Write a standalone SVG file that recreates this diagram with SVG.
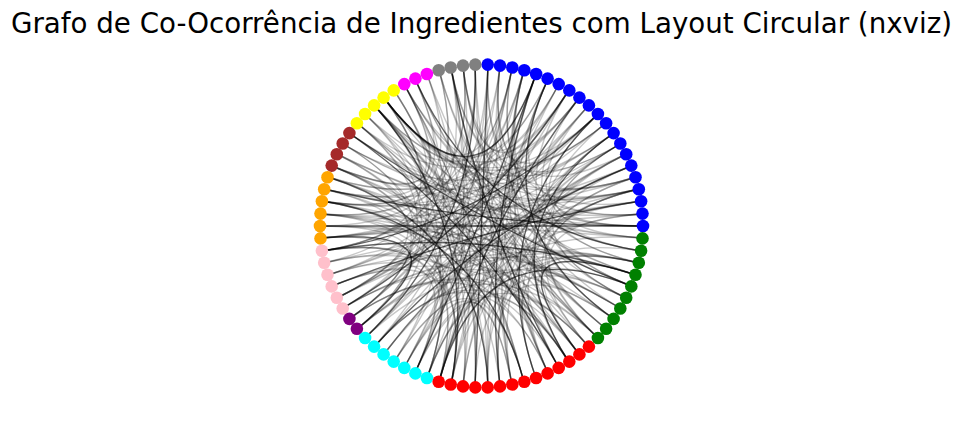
<svg xmlns="http://www.w3.org/2000/svg" width="963" height="421" viewBox="0 0 963 421">
<style>
.e{fill:none;stroke:#000;stroke-width:1.4;stroke-opacity:.22}
.d{stroke-opacity:.6}
circle{stroke:none}
.bl{fill:#0000ff}.gy{fill:#808080}.mg{fill:#ff00ff}.yl{fill:#ffff00}.br{fill:#a52a2a}.or{fill:#ffa500}.pk{fill:#ffc0cb}.pu{fill:#800080}.cy{fill:#00ffff}.rd{fill:#ff0000}.gn{fill:#008000}
.t{font-family:"DejaVu Sans","Liberation Sans",sans-serif;font-size:27.7px;fill:#000}
</style>
<rect width="963" height="421" fill="#fff"/>
<text class="t" x="481.5" y="33" text-anchor="middle">Grafo de Co-Ocorrência de Ingredientes com Layout Circular (nxviz)</text>
<g id="edges">
<path class="e" d="M643,226Q481.5,226 384,98"/>
<path class="e" d="M642,214Q481.5,226 321,238"/>
<path class="e" d="M641,201Q481.5,226 500,66"/>
<path class="e" d="M639,189Q481.5,226 324,189"/>
<path class="e" d="M636,177Q481.5,226 404,84"/>
<path class="e d" d="M631,166Q481.5,226 374,347"/>
<path class="e" d="M626,154Q481.5,226 500,66"/>
<path class="e" d="M620,144Q481.5,226 328,275"/>
<path class="e" d="M614,133Q481.5,226 322,201"/>
<path class="e" d="M606,123Q481.5,226 374,105"/>
<path class="e" d="M598,114Q481.5,226 322,201"/>
<path class="e" d="M589,105Q481.5,226 374,347"/>
<path class="e" d="M579,98Q481.5,226 384,98"/>
<path class="e d" d="M569,90Q481.5,226 343,308"/>
<path class="e" d="M559,84Q481.5,226 328,177"/>
<path class="e" d="M548,79Q481.5,226 488,387"/>
<path class="e d" d="M536,74Q481.5,226 384,98"/>
<path class="e" d="M524,70Q481.5,226 404,368"/>
<path class="e" d="M512,68Q481.5,226 349,319"/>
<path class="e" d="M500,66Q481.5,226 321,214"/>
<path class="e" d="M488,65Q481.5,226 349,319"/>
<path class="e" d="M475,65Q481.5,226 488,387"/>
<path class="e" d="M463,66Q481.5,226 322,201"/>
<path class="e" d="M451,68Q481.5,226 439,382"/>
<path class="e" d="M439,70Q481.5,226 337,298"/>
<path class="e" d="M427,74Q481.5,226 598,338"/>
<path class="e" d="M415,79Q481.5,226 322,201"/>
<path class="e" d="M404,84Q481.5,226 524,382"/>
<path class="e" d="M394,90Q481.5,226 451,385"/>
<path class="e" d="M384,98Q481.5,226 357,329"/>
<path class="e d" d="M374,105Q481.5,226 451,385"/>
<path class="e" d="M365,114Q481.5,226 598,338"/>
<path class="e" d="M357,123Q481.5,226 349,319"/>
<path class="e d" d="M349,133Q481.5,226 559,368"/>
<path class="e" d="M343,144Q481.5,226 427,378"/>
<path class="e" d="M337,154Q481.5,226 643,226"/>
<path class="e" d="M332,166Q481.5,226 349,319"/>
<path class="e" d="M328,177Q481.5,226 620,308"/>
<path class="e" d="M324,189Q481.5,226 569,362"/>
<path class="e" d="M322,201Q481.5,226 463,386"/>
<path class="e" d="M321,214Q481.5,226 569,362"/>
<path class="e d" d="M320,226Q481.5,226 643,226"/>
<path class="e" d="M321,238Q481.5,226 451,385"/>
<path class="e d" d="M322,251Q481.5,226 636,275"/>
<path class="e" d="M324,263Q481.5,226 548,373"/>
<path class="e" d="M328,275Q481.5,226 598,114"/>
<path class="e" d="M332,286Q481.5,226 451,385"/>
<path class="e" d="M337,298Q481.5,226 639,189"/>
<path class="e" d="M343,308Q481.5,226 639,263"/>
<path class="e" d="M349,319Q481.5,226 579,354"/>
<path class="e" d="M357,329Q481.5,226 639,263"/>
<path class="e" d="M365,338Q481.5,226 598,114"/>
<path class="e" d="M374,347Q481.5,226 569,362"/>
<path class="e" d="M384,354Q481.5,226 626,154"/>
<path class="e" d="M394,362Q481.5,226 631,286"/>
<path class="e" d="M404,368Q481.5,226 488,65"/>
<path class="e" d="M415,373Q481.5,226 569,362"/>
<path class="e" d="M427,378Q481.5,226 569,90"/>
<path class="e" d="M439,382Q481.5,226 620,144"/>
<path class="e" d="M451,385Q481.5,226 641,251"/>
<path class="e" d="M463,386Q481.5,226 620,144"/>
<path class="e d" d="M475,387Q481.5,226 488,65"/>
<path class="e" d="M488,387Q481.5,226 639,263"/>
<path class="e d" d="M500,386Q481.5,226 536,74"/>
<path class="e" d="M512,385Q481.5,226 631,166"/>
<path class="e" d="M524,382Q481.5,226 374,105"/>
<path class="e" d="M536,378Q481.5,226 639,263"/>
<path class="e" d="M548,373Q481.5,226 451,68"/>
<path class="e" d="M559,368Q481.5,226 524,70"/>
<path class="e d" d="M569,362Q481.5,226 614,133"/>
<path class="e" d="M579,354Q481.5,226 524,70"/>
<path class="e" d="M589,347Q481.5,226 374,105"/>
<path class="e" d="M598,338Q481.5,226 620,144"/>
<path class="e" d="M606,329Q481.5,226 415,79"/>
<path class="e d" d="M614,319Q481.5,226 548,79"/>
<path class="e" d="M620,308Q481.5,226 321,214"/>
<path class="e" d="M626,298Q481.5,226 620,144"/>
<path class="e d" d="M631,286Q481.5,226 349,133"/>
<path class="e" d="M636,275Q481.5,226 404,84"/>
<path class="e" d="M639,263Q481.5,226 512,68"/>
<path class="e" d="M641,251Q481.5,226 404,84"/>
<path class="e" d="M642,238Q481.5,226 321,214"/>
<path class="e" d="M643,226Q481.5,226 589,105"/>
<path class="e" d="M642,214Q481.5,226 343,144"/>
<path class="e d" d="M641,201Q481.5,226 332,286"/>
<path class="e" d="M639,189Q481.5,226 384,98"/>
<path class="e" d="M636,177Q481.5,226 451,68"/>
<path class="e" d="M631,166Q481.5,226 321,238"/>
<path class="e" d="M626,154Q481.5,226 439,382"/>
<path class="e" d="M620,144Q481.5,226 463,66"/>
<path class="e" d="M614,133Q481.5,226 332,166"/>
<path class="e" d="M606,123Q481.5,226 488,65"/>
<path class="e d" d="M598,114Q481.5,226 322,251"/>
<path class="e" d="M589,105Q481.5,226 404,368"/>
<path class="e" d="M579,98Q481.5,226 324,189"/>
<path class="e" d="M569,90Q481.5,226 357,123"/>
<path class="e" d="M559,84Q481.5,226 365,338"/>
<path class="e" d="M548,79Q481.5,226 548,373"/>
<path class="e" d="M536,74Q481.5,226 365,114"/>
<path class="e" d="M524,70Q481.5,226 328,275"/>
<path class="e" d="M512,68Q481.5,226 384,98"/>
<path class="e" d="M500,66Q481.5,226 374,347"/>
<path class="e" d="M488,65Q481.5,226 512,385"/>
<path class="e" d="M475,65Q481.5,226 337,298"/>
<path class="e" d="M463,66Q481.5,226 320,226"/>
<path class="e" d="M451,68Q481.5,226 463,386"/>
<path class="e" d="M439,70Q481.5,226 626,298"/>
<path class="e" d="M427,74Q481.5,226 321,214"/>
<path class="e" d="M415,79Q481.5,226 394,362"/>
<path class="e" d="M404,84Q481.5,226 324,189"/>
<path class="e" d="M394,90Q481.5,226 475,387"/>
<path class="e" d="M384,98Q481.5,226 606,329"/>
<path class="e" d="M374,105Q481.5,226 415,373"/>
<path class="e" d="M365,114Q481.5,226 357,329"/>
<path class="e" d="M357,123Q481.5,226 569,362"/>
<path class="e" d="M349,133Q481.5,226 639,189"/>
<path class="e" d="M343,144Q481.5,226 349,319"/>
<path class="e" d="M337,154Q481.5,226 500,386"/>
<path class="e" d="M332,166Q481.5,226 337,298"/>
<path class="e" d="M328,177Q481.5,226 579,354"/>
<path class="e d" d="M324,189Q481.5,226 643,226"/>
<path class="e d" d="M322,201Q481.5,226 524,382"/>
<path class="e" d="M321,214Q481.5,226 451,385"/>
<path class="e" d="M320,226Q481.5,226 636,275"/>
<path class="e" d="M321,238Q481.5,226 579,98"/>
<path class="e" d="M322,251Q481.5,226 439,382"/>
<path class="e" d="M324,263Q481.5,226 598,338"/>
<path class="e" d="M328,275Q481.5,226 415,373"/>
<path class="e" d="M332,286Q481.5,226 639,263"/>
<path class="e" d="M337,298Q481.5,226 606,123"/>
<path class="e" d="M343,308Q481.5,226 614,319"/>
<path class="e" d="M349,319Q481.5,226 559,368"/>
<path class="e" d="M357,329Q481.5,226 631,166"/>
<path class="e d" d="M365,338Q481.5,226 475,65"/>
<path class="e" d="M374,347Q481.5,226 548,373"/>
<path class="e" d="M384,354Q481.5,226 642,238"/>
<path class="e" d="M394,362Q481.5,226 524,382"/>
<path class="e" d="M404,368Q481.5,226 626,154"/>
<path class="e" d="M415,373Q481.5,226 512,68"/>
<path class="e" d="M427,378Q481.5,226 642,214"/>
<path class="e d" d="M439,382Q481.5,226 631,286"/>
<path class="e" d="M451,385Q481.5,226 559,84"/>
<path class="e" d="M463,386Q481.5,226 374,105"/>
<path class="e" d="M475,387Q481.5,226 626,298"/>
<path class="e" d="M488,387Q481.5,226 614,133"/>
<path class="e" d="M500,386Q481.5,226 614,319"/>
<path class="e" d="M512,385Q481.5,226 548,79"/>
<path class="e" d="M524,382Q481.5,226 404,84"/>
<path class="e d" d="M536,378Q481.5,226 598,114"/>
<path class="e" d="M548,373Q481.5,226 636,177"/>
<path class="e d" d="M559,368Q481.5,226 451,68"/>
<path class="e" d="M569,362Q481.5,226 322,201"/>
<path class="e" d="M579,354Q481.5,226 639,189"/>
<path class="e" d="M589,347Q481.5,226 524,70"/>
<path class="e" d="M598,338Q481.5,226 642,214"/>
<path class="e" d="M606,329Q481.5,226 439,70"/>
<path class="e" d="M614,319Q481.5,226 332,166"/>
<path class="e" d="M620,308Q481.5,226 500,66"/>
<path class="e" d="M626,298Q481.5,226 569,90"/>
<path class="e" d="M631,286Q481.5,226 357,123"/>
<path class="e" d="M636,275Q481.5,226 343,308"/>
<path class="e" d="M639,263Q481.5,226 579,98"/>
<path class="e d" d="M641,251Q481.5,226 415,79"/>
<path class="e" d="M642,238Q481.5,226 598,114"/>
<path class="e" d="M643,226Q481.5,226 614,133"/>
<path class="e" d="M641,201Q481.5,226 321,238"/>
<path class="e" d="M636,177Q481.5,226 384,98"/>
<path class="e" d="M626,154Q481.5,226 500,386"/>
<path class="e" d="M614,133Q481.5,226 321,238"/>
<path class="e" d="M598,114Q481.5,226 374,105"/>
<path class="e d" d="M579,98Q481.5,226 439,382"/>
<path class="e" d="M559,84Q481.5,226 463,66"/>
<path class="e d" d="M536,74Q481.5,226 415,373"/>
<path class="e" d="M512,68Q481.5,226 322,251"/>
<path class="e" d="M488,65Q481.5,226 631,286"/>
<path class="e" d="M463,66Q481.5,226 415,373"/>
<path class="e" d="M439,70Q481.5,226 324,263"/>
<path class="e" d="M415,79Q481.5,226 598,338"/>
<path class="e" d="M394,90Q481.5,226 332,166"/>
<path class="e" d="M374,105Q481.5,226 579,354"/>
<path class="e" d="M357,123Q481.5,226 427,378"/>
<path class="e" d="M343,144Q481.5,226 606,123"/>
<path class="e" d="M332,166Q481.5,226 579,354"/>
<path class="e" d="M324,189Q481.5,226 439,382"/>
<path class="e" d="M321,214Q481.5,226 636,177"/>
<path class="e d" d="M321,238Q481.5,226 357,329"/>
<path class="e" d="M324,263Q481.5,226 641,201"/>
<path class="e" d="M332,286Q481.5,226 589,347"/>
<path class="e" d="M343,308Q481.5,226 451,68"/>
<path class="e" d="M357,329Q481.5,226 641,201"/>
<path class="e" d="M374,347Q481.5,226 598,338"/>
<path class="e" d="M394,362Q481.5,226 512,68"/>
<path class="e" d="M415,373Q481.5,226 512,385"/>
<path class="e" d="M439,382Q481.5,226 536,74"/>
<path class="e" d="M463,386Q481.5,226 639,189"/>
<path class="e d" d="M488,387Q481.5,226 328,177"/>
<path class="e" d="M512,385Q481.5,226 536,74"/>
<path class="e" d="M536,378Q481.5,226 636,177"/>
<path class="e" d="M559,368Q481.5,226 357,123"/>
<path class="e d" d="M579,354Q481.5,226 636,275"/>
<path class="e" d="M598,338Q481.5,226 374,105"/>
<path class="e" d="M614,319Q481.5,226 524,70"/>
<path class="e" d="M626,298Q481.5,226 365,338"/>
<path class="e" d="M636,275Q481.5,226 374,105"/>
<path class="e" d="M641,251Q481.5,226 512,68"/>
<path class="e" d="M642,214Q481.5,226 548,79"/>
<path class="e" d="M639,189Q481.5,226 343,144"/>
<path class="e" d="M631,166Q481.5,226 384,354"/>
<path class="e" d="M620,144Q481.5,226 384,98"/>
<path class="e" d="M606,123Q481.5,226 569,362"/>
<path class="e" d="M589,105Q481.5,226 337,298"/>
<path class="e" d="M569,90Q481.5,226 463,66"/>
<path class="e" d="M548,79Q481.5,226 384,98"/>
<path class="e" d="M524,70Q481.5,226 343,308"/>
<path class="e" d="M500,66Q481.5,226 548,373"/>
<path class="e" d="M475,65Q481.5,226 322,251"/>
<path class="e" d="M451,68Q481.5,226 642,214"/>
<path class="e" d="M427,74Q481.5,226 475,387"/>
<path class="e" d="M404,84Q481.5,226 332,166"/>
<path class="e" d="M384,98Q481.5,226 322,251"/>
<path class="e" d="M365,114Q481.5,226 488,387"/>
<path class="e" d="M349,133Q481.5,226 642,238"/>
<path class="e" d="M337,154Q481.5,226 427,378"/>
<path class="e" d="M328,177Q481.5,226 548,79"/>
<path class="e" d="M322,201Q481.5,226 620,308"/>
<path class="e" d="M320,226Q481.5,226 357,329"/>
<path class="e" d="M322,251Q481.5,226 427,378"/>
<path class="e" d="M328,275Q481.5,226 626,298"/>
<path class="e" d="M337,298Q481.5,226 569,90"/>
<path class="e" d="M349,319Q481.5,226 589,347"/>
<path class="e" d="M365,338Q481.5,226 384,98"/>
<path class="e" d="M384,354Q481.5,226 620,144"/>
<path class="e" d="M404,368Q481.5,226 512,385"/>
<path class="e" d="M427,378Q481.5,226 589,347"/>
<path class="e" d="M451,385Q481.5,226 614,133"/>
<path class="e" d="M475,387Q481.5,226 404,84"/>
<path class="e" d="M500,386Q481.5,226 639,189"/>
<path class="e" d="M524,382Q481.5,226 322,251"/>
<path class="e" d="M548,373Q481.5,226 475,65"/>
<path class="e" d="M569,362Q481.5,226 636,275"/>
<path class="e" d="M589,347Q481.5,226 639,189"/>
<path class="e" d="M606,329Q481.5,226 463,66"/>
<path class="e" d="M620,308Q481.5,226 320,226"/>
<path class="e" d="M631,286Q481.5,226 524,70"/>
<path class="e" d="M639,263Q481.5,226 427,378"/>
<path class="e" d="M642,238Q481.5,226 337,154"/>
</g>
<g id="n0"><circle class="bl" cx="643" cy="226" r="6.3"/></g>
<g id="n1"><circle class="bl" cx="642.5" cy="213.6" r="6.3"/></g>
<g id="n2"><circle class="bl" cx="641.1" cy="201.3" r="6.3"/></g>
<g id="n3"><circle class="bl" cx="638.8" cy="189.2" r="6.3"/></g>
<g id="n4"><circle class="bl" cx="635.5" cy="177.3" r="6.3"/></g>
<g id="n5"><circle class="bl" cx="631.3" cy="165.6" r="6.3"/></g>
<g id="n6"><circle class="bl" cx="626.2" cy="154.3" r="6.3"/></g>
<g id="n7"><circle class="bl" cx="620.3" cy="143.5" r="6.3"/></g>
<g id="n8"><circle class="bl" cx="613.6" cy="133.1" r="6.3"/></g>
<g id="n9"><circle class="bl" cx="606.1" cy="123.2" r="6.3"/></g>
<g id="n10"><circle class="bl" cx="597.9" cy="114" r="6.3"/></g>
<g id="n11"><circle class="bl" cx="588.9" cy="105.4" r="6.3"/></g>
<g id="n12"><circle class="bl" cx="579.4" cy="97.6" r="6.3"/></g>
<g id="n13"><circle class="bl" cx="569.3" cy="90.4" r="6.3"/></g>
<g id="n14"><circle class="bl" cx="558.7" cy="84.1" r="6.3"/></g>
<g id="n15"><circle class="bl" cx="547.6" cy="78.6" r="6.3"/></g>
<g id="n16"><circle class="bl" cx="536.1" cy="74" r="6.3"/></g>
<g id="n17"><circle class="bl" cx="524.3" cy="70.3" r="6.3"/></g>
<g id="n18"><circle class="bl" cx="512.3" cy="67.5" r="6.3"/></g>
<g id="n19"><circle class="bl" cx="500" cy="65.6" r="6.3"/></g>
<g id="n20"><circle class="bl" cx="487.7" cy="64.6" r="6.3"/></g>
<g id="n21"><circle class="gy" cx="475.3" cy="64.6" r="6.3"/></g>
<g id="n22"><circle class="gy" cx="463" cy="65.6" r="6.3"/></g>
<g id="n23"><circle class="gy" cx="450.7" cy="67.5" r="6.3"/></g>
<g id="n24"><circle class="gy" cx="438.7" cy="70.3" r="6.3"/></g>
<g id="n25"><circle class="mg" cx="426.9" cy="74" r="6.3"/></g>
<g id="n26"><circle class="mg" cx="415.4" cy="78.6" r="6.3"/></g>
<g id="n27"><circle class="mg" cx="404.3" cy="84.1" r="6.3"/></g>
<g id="n28"><circle class="yl" cx="393.7" cy="90.4" r="6.3"/></g>
<g id="n29"><circle class="yl" cx="383.6" cy="97.6" r="6.3"/></g>
<g id="n30"><circle class="yl" cx="374.1" cy="105.4" r="6.3"/></g>
<g id="n31"><circle class="yl" cx="365.1" cy="114" r="6.3"/></g>
<g id="n32"><circle class="yl" cx="356.9" cy="123.2" r="6.3"/></g>
<g id="n33"><circle class="br" cx="349.4" cy="133.1" r="6.3"/></g>
<g id="n34"><circle class="br" cx="342.7" cy="143.5" r="6.3"/></g>
<g id="n35"><circle class="br" cx="336.8" cy="154.3" r="6.3"/></g>
<g id="n36"><circle class="br" cx="331.7" cy="165.6" r="6.3"/></g>
<g id="n37"><circle class="or" cx="327.5" cy="177.3" r="6.3"/></g>
<g id="n38"><circle class="or" cx="324.2" cy="189.2" r="6.3"/></g>
<g id="n39"><circle class="or" cx="321.9" cy="201.3" r="6.3"/></g>
<g id="n40"><circle class="or" cx="320.5" cy="213.6" r="6.3"/></g>
<g id="n41"><circle class="or" cx="320" cy="226" r="6.3"/></g>
<g id="n42"><circle class="or" cx="320.5" cy="238.4" r="6.3"/></g>
<g id="n43"><circle class="pk" cx="321.9" cy="250.7" r="6.3"/></g>
<g id="n44"><circle class="pk" cx="324.2" cy="262.8" r="6.3"/></g>
<g id="n45"><circle class="pk" cx="327.5" cy="274.7" r="6.3"/></g>
<g id="n46"><circle class="pk" cx="331.7" cy="286.4" r="6.3"/></g>
<g id="n47"><circle class="pk" cx="336.8" cy="297.7" r="6.3"/></g>
<g id="n48"><circle class="pk" cx="342.7" cy="308.5" r="6.3"/></g>
<g id="n49"><circle class="pu" cx="349.4" cy="318.9" r="6.3"/></g>
<g id="n50"><circle class="pu" cx="356.9" cy="328.8" r="6.3"/></g>
<g id="n51"><circle class="cy" cx="365.1" cy="338" r="6.3"/></g>
<g id="n52"><circle class="cy" cx="374.1" cy="346.6" r="6.3"/></g>
<g id="n53"><circle class="cy" cx="383.6" cy="354.4" r="6.3"/></g>
<g id="n54"><circle class="cy" cx="393.7" cy="361.6" r="6.3"/></g>
<g id="n55"><circle class="cy" cx="404.3" cy="367.9" r="6.3"/></g>
<g id="n56"><circle class="cy" cx="415.4" cy="373.4" r="6.3"/></g>
<g id="n57"><circle class="cy" cx="426.9" cy="378" r="6.3"/></g>
<g id="n58"><circle class="rd" cx="438.7" cy="381.7" r="6.3"/></g>
<g id="n59"><circle class="rd" cx="450.7" cy="384.5" r="6.3"/></g>
<g id="n60"><circle class="rd" cx="463" cy="386.4" r="6.3"/></g>
<g id="n61"><circle class="rd" cx="475.3" cy="387.4" r="6.3"/></g>
<g id="n62"><circle class="rd" cx="487.7" cy="387.4" r="6.3"/></g>
<g id="n63"><circle class="rd" cx="500" cy="386.4" r="6.3"/></g>
<g id="n64"><circle class="rd" cx="512.3" cy="384.5" r="6.3"/></g>
<g id="n65"><circle class="rd" cx="524.3" cy="381.7" r="6.3"/></g>
<g id="n66"><circle class="rd" cx="536.1" cy="378" r="6.3"/></g>
<g id="n67"><circle class="rd" cx="547.6" cy="373.4" r="6.3"/></g>
<g id="n68"><circle class="rd" cx="558.7" cy="367.9" r="6.3"/></g>
<g id="n69"><circle class="rd" cx="569.3" cy="361.6" r="6.3"/></g>
<g id="n70"><circle class="rd" cx="579.4" cy="354.4" r="6.3"/></g>
<g id="n71"><circle class="rd" cx="588.9" cy="346.6" r="6.3"/></g>
<g id="n72"><circle class="gn" cx="597.9" cy="338" r="6.3"/></g>
<g id="n73"><circle class="gn" cx="606.1" cy="328.8" r="6.3"/></g>
<g id="n74"><circle class="gn" cx="613.6" cy="318.9" r="6.3"/></g>
<g id="n75"><circle class="gn" cx="620.3" cy="308.5" r="6.3"/></g>
<g id="n76"><circle class="gn" cx="626.2" cy="297.7" r="6.3"/></g>
<g id="n77"><circle class="gn" cx="631.3" cy="286.4" r="6.3"/></g>
<g id="n78"><circle class="gn" cx="635.5" cy="274.7" r="6.3"/></g>
<g id="n79"><circle class="gn" cx="638.8" cy="262.8" r="6.3"/></g>
<g id="n80"><circle class="gn" cx="641.1" cy="250.7" r="6.3"/></g>
<g id="n81"><circle class="gn" cx="642.5" cy="238.4" r="6.3"/></g>
</svg>
